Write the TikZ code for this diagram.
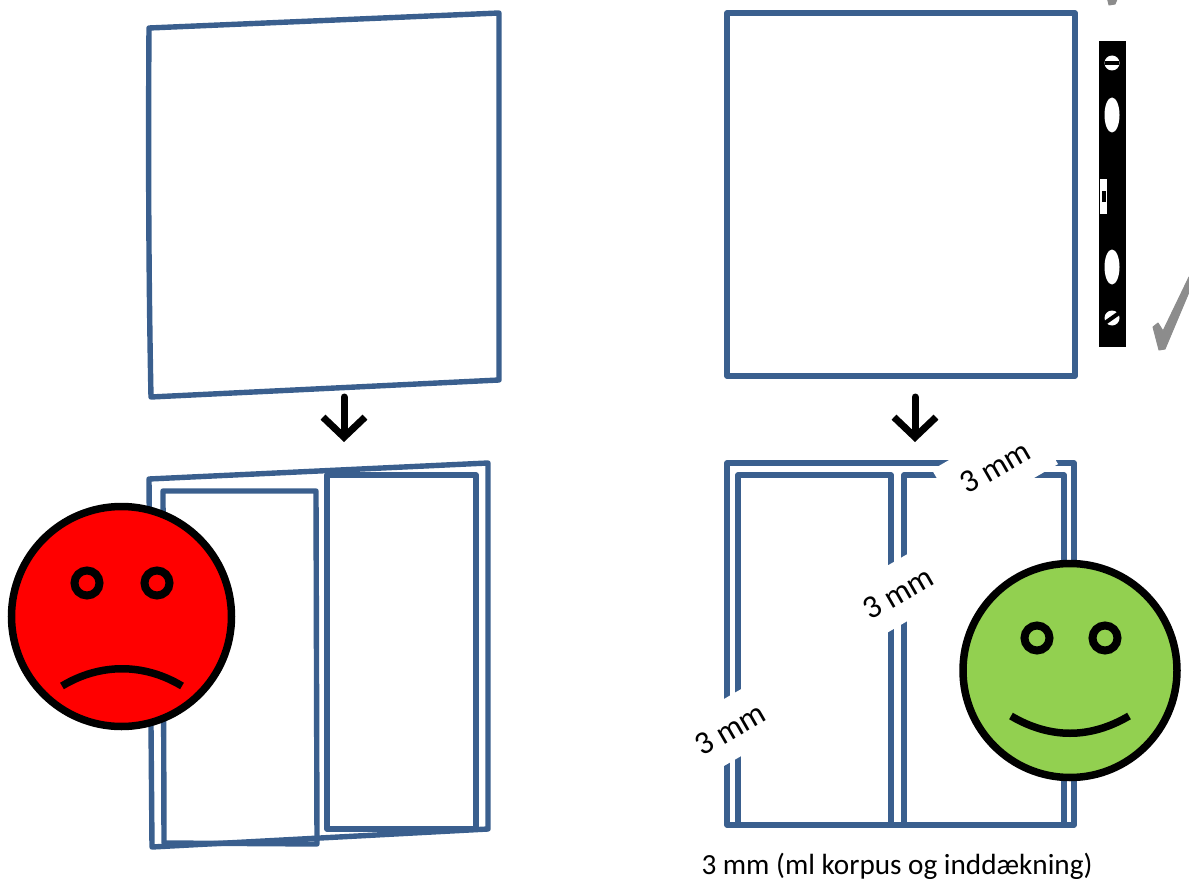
\documentclass[tikz,border=0pt]{standalone}
\usepackage{fontspec}
\setmainfont{Carlito}
\usetikzlibrary{arrows.meta,shapes.geometric}
\definecolor{frameblue}{HTML}{3A5F8E}
\definecolor{smilegreen}{HTML}{92D050}
\definecolor{tickgray}{HTML}{8C8C8C}

\begin{document}
\begin{tikzpicture}[
  x=1pt, y=-1pt,
  font=\fontsize{29.2}{34}\selectfont,
  pane/.style={draw=frameblue, line width=5.4pt, line join=round},
  a/.style={-{Straight Barb[length=20pt, width=42pt, line width=7pt]}, line width=7pt, line cap=round, line join=round},
  face/.style={circle, draw=black, line width=7.5pt, inner sep=0pt},
  eye/.style={circle, draw=black, line width=8pt, inner sep=0pt, minimum size=25pt},
  mouth/.style={draw=black, line width=7.5pt},
  gap/.style={fill=white, rotate=30, minimum width=112pt, minimum height=58pt, inner sep=0pt, font=\fontsize{32.5}{38}\selectfont},
  hole/.style={ellipse, fill=white, inner sep=0pt},
  screw/.style={circle, fill=white, inner sep=0pt, minimum size=15pt},
  tick/.style={fill=tickgray, draw=tickgray, line width=1pt, line join=round}
]
\clip (0,0) rectangle (1189,880);

\draw[pane] (149,28) -- (499,13) -- (499,380) -- (151,397) .. controls (149,300) and (148,170) .. cycle;
\draw[pane] (149,479) -- (488,463) -- (488,829) -- (152,847) -- cycle;
\draw[pane] (163,491) -- (316,491) -- (317,844) -- (164,843) -- cycle;
\draw[pane] (327,475) -- (476,475) -- (476,829) -- (327,829) -- cycle;

\coordinate (arrowAtop) at (344,397);
\coordinate (arrowAend) at (344,442);
\draw[a] (arrowAtop) -- (arrowAend);

\node[face, fill=red, minimum size=220pt] (sad) at (121.5,616.5) {};
\node[eye] (sadL) at (87,583) {};
\node[eye] (sadR) at (157,583) {};
\coordinate (sadA) at (62,686);
\coordinate (sadB) at (182,686);
\draw[mouth] (sadA) .. controls (100,663) and (144,663) .. (sadB);

\draw[pane] (727,13) rectangle (1075,376);
\draw[pane] (727,463) rectangle (1074,825);
\draw[pane] (738,475) -- (738,825) -- (891,825) -- (891,475) -- cycle;
\draw[pane] (904,825) -- (904,475) -- (1064,475) -- (1064,825);

\coordinate (arrowBtop) at (915,397);
\coordinate (arrowBend) at (915,442);
\draw[a] (arrowBtop) -- (arrowBend);

\node[gap] (gapTop) at (995,467) {3 mm};
\node[gap] (gapMid) at (898,593) {3 mm};
\node[gap] (gapLow) at (730,729) {3 mm};
\node[inner sep=0pt] (note) at (897,866.5) {3 mm (ml korpus og inddækning)};

\node[face, fill=smilegreen, minimum size=214pt] (happy) at (1070,670.5) {};
\node[eye] (happyL) at (1037,638) {};
\node[eye] (happyR) at (1105,638) {};
\coordinate (happyA) at (1011,716);
\coordinate (happyB) at (1129,716);
\draw[mouth] (happyA) .. controls (1050,739) and (1090,739) .. (happyB);

\fill[black] (1099,41) rectangle (1126,347);
\node[screw] (screwA) at (1112,63) {};
\fill[black] (1105,61) rectangle (1119,65.5);
\node[hole, minimum width=15pt, minimum height=35pt] (bubbleA) at (1112,115) {};
\fill[white] (1100,179) rectangle (1107,214);
\fill[black] (1102,191) rectangle (1106,202);
\node[hole, minimum width=15pt, minimum height=35pt] (bubbleB) at (1112,267) {};
\node[screw] (screwB) at (1112,318) {};
\fill[black, rotate around={35:(1112,318)}] (1104,316) rectangle (1120,320);

\draw[tick] (1153,327) -- (1158,323) -- (1163,331) -- (1189,277) -- (1189,292) -- (1165,349) -- (1159,350) -- cycle;
\draw[tick] (1103,-20) -- (1108,-24) -- (1113,-16) -- (1139,-70) -- (1139,-53) -- (1115,4) -- (1109,5) -- cycle;
\end{tikzpicture}
\end{document}
